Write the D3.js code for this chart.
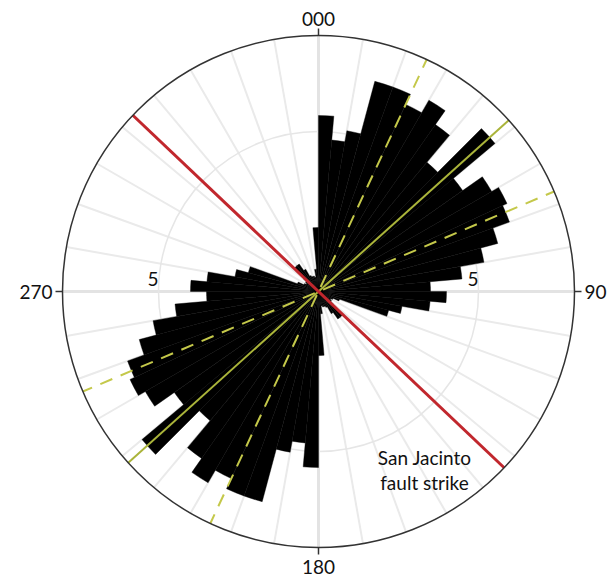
<!DOCTYPE html>
<html>
<head>
<meta charset="utf-8">
<script src="https://cdn.jsdelivr.net/npm/d3@7"></script>
<style>
  html, body { margin: 0; padding: 0; background: #fff; }
  svg text { font-family: Lato, "Open Sans", sans-serif; fill: #111; }
</style>
</head>
<body>
<div id="chart"></div>
<script>
// ========== DATA ==========
// 5-degree bins (axial data, each bin is drawn at θ and θ+180)
const binStarts = [0, 5, 10, 15, 20, 25, 30, 35, 40, 45, 50, 55, 60, 65, 70, 75, 80, 85,
                   90, 95, 100, 105, 110, 115, 120, 125, 130, 135, 140, 145, 150, 155, 160, 165, 170, 175];
const binCounts = [5.5, 4.75, 5.1, 6.8, 6.8, 6.45, 6.9, 6.37, 5.27, 7.2, 5.5, 6.25, 6.5, 6.35, 5.8, 5.25, 4.5, 3.5,
                   4.0, 3.5, 2.65, 2.27, 0.7, 0.5, 0.45, 0.5, 0.6, 1.05, 1.05, 0.8, 0.55, 0.5, 0.5, 0.45, 0.7, 2.0];
const binWidth = 5;
const radialTicks = [5];
const radialMax = 8;
const cardinalLabels = [{ angle: 0, text: '000' }, { angle: 90, text: '90' }, { angle: 180, text: '180' }, { angle: 270, text: '270' }];
const faultStrike = 133.5;
const meanDir = 48;
const meanBounds = [25, 67];
const faultLabel = ['San Jacinto', 'fault strike'];

// ========== CHART ==========
const W = 612, H = 582;
const cx = 318.5, cy = 291.5, R = 256;

const svg = d3.select('#chart').append('svg').attr('width', W).attr('height', H);
const g = svg.append('g').attr('transform', `translate(${cx},${cy})`);

const r = d3.scaleLinear().domain([0, radialMax]).range([0, R]);
const rad = deg => deg * Math.PI / 180;
const px = (deg, rr) => rr * Math.sin(rad(deg));
const py = (deg, rr) => -rr * Math.cos(rad(deg));

// Spokes every 10 degrees
const spokes = d3.range(0, 360, 10);
g.append('g').selectAll('line').data(spokes).enter().append('line')
  .attr('x1', 0).attr('y1', 0)
  .attr('x2', d => px(d, R)).attr('y2', d => py(d, R))
  .attr('stroke', d => d % 90 === 0 ? '#e3e3e3' : '#eaeaea')
  .attr('stroke-width', d => d % 90 === 0 ? 3 : 2);

// Radial grid circle
g.append('g').selectAll('circle').data(radialTicks).enter().append('circle')
  .attr('r', d => r(d)).attr('fill', 'none').attr('stroke', '#e6e6e6').attr('stroke-width', 1.5);

// Rose petals
const bars = [];
binStarts.forEach((b, i) => {
  bars.push({ start: b, value: binCounts[i] });
  bars.push({ start: b + 180, value: binCounts[i] });
});
const arc = d3.arc().innerRadius(0)
  .outerRadius(d => r(d.value))
  .startAngle(d => rad(d.start))
  .endAngle(d => rad(d.start + binWidth));
g.append('g').selectAll('path').data(bars).enter().append('path')
  .attr('d', arc).attr('fill', '#000').attr('stroke', '#000').attr('stroke-width', 0.4);

// Mean direction and confidence bounds
const axial = deg => [deg, deg + 180];
g.append('g').selectAll('line').data(meanBounds).enter().append('line')
  .attr('x1', d => px(d, R)).attr('y1', d => py(d, R))
  .attr('x2', d => px(d + 180, R)).attr('y2', d => py(d + 180, R))
  .attr('stroke', '#c4c84a').attr('stroke-width', 2).attr('stroke-dasharray', '13,9')
  .attr('stroke-dashoffset', 4);
g.append('line')
  .attr('x1', px(meanDir, R)).attr('y1', py(meanDir, R))
  .attr('x2', px(meanDir + 180, R)).attr('y2', py(meanDir + 180, R))
  .attr('stroke', '#aab43a').attr('stroke-width', 2);

// Fault strike
const [f1, f2] = axial(faultStrike);
g.append('line')
  .attr('x1', px(f1, R)).attr('y1', py(f1, R))
  .attr('x2', px(f2, R)).attr('y2', py(f2, R))
  .attr('stroke', '#c1272d').attr('stroke-width', 3);

// Outer circle + cardinal ticks
g.append('circle').attr('r', R).attr('fill', 'none').attr('stroke', '#333').attr('stroke-width', 1.5);
g.append('g').selectAll('line').data(cardinalLabels).enter().append('line')
  .attr('x1', d => px(d.angle, R)).attr('y1', d => py(d.angle, R))
  .attr('x2', d => px(d.angle, R + 7)).attr('y2', d => py(d.angle, R + 7))
  .attr('stroke', '#333').attr('stroke-width', 1.5);

// Cardinal labels
g.append('g').selectAll('text').data(cardinalLabels).enter().append('text')
  .attr('x', d => d.angle === 90 ? R + 10 : d.angle === 270 ? -R - 10 : 0)
  .attr('y', d => d.angle === 0 ? -R - 10 : d.angle === 180 ? R + 26 : 7)
  .attr('text-anchor', d => d.angle === 90 ? 'start' : d.angle === 270 ? 'end' : 'middle')
  .style('font-size', '19px')
  .text(d => d.text);

// Radial tick labels
radialTicks.forEach(t => {
  [-1, 1].forEach(s => {
    g.append('text').attr('x', s * r(t)).attr('y', -6)
      .attr('text-anchor', 'end').style('font-size', '19px').text(t);
  });
});

// Fault annotation
g.append('g').selectAll('text').data(faultLabel).enter().append('text')
  .attr('x', 106).attr('y', (d, i) => 173 + i * 25)
  .attr('text-anchor', 'middle').style('font-size', '19px')
  .text(d => d);
</script>
</body>
</html>
